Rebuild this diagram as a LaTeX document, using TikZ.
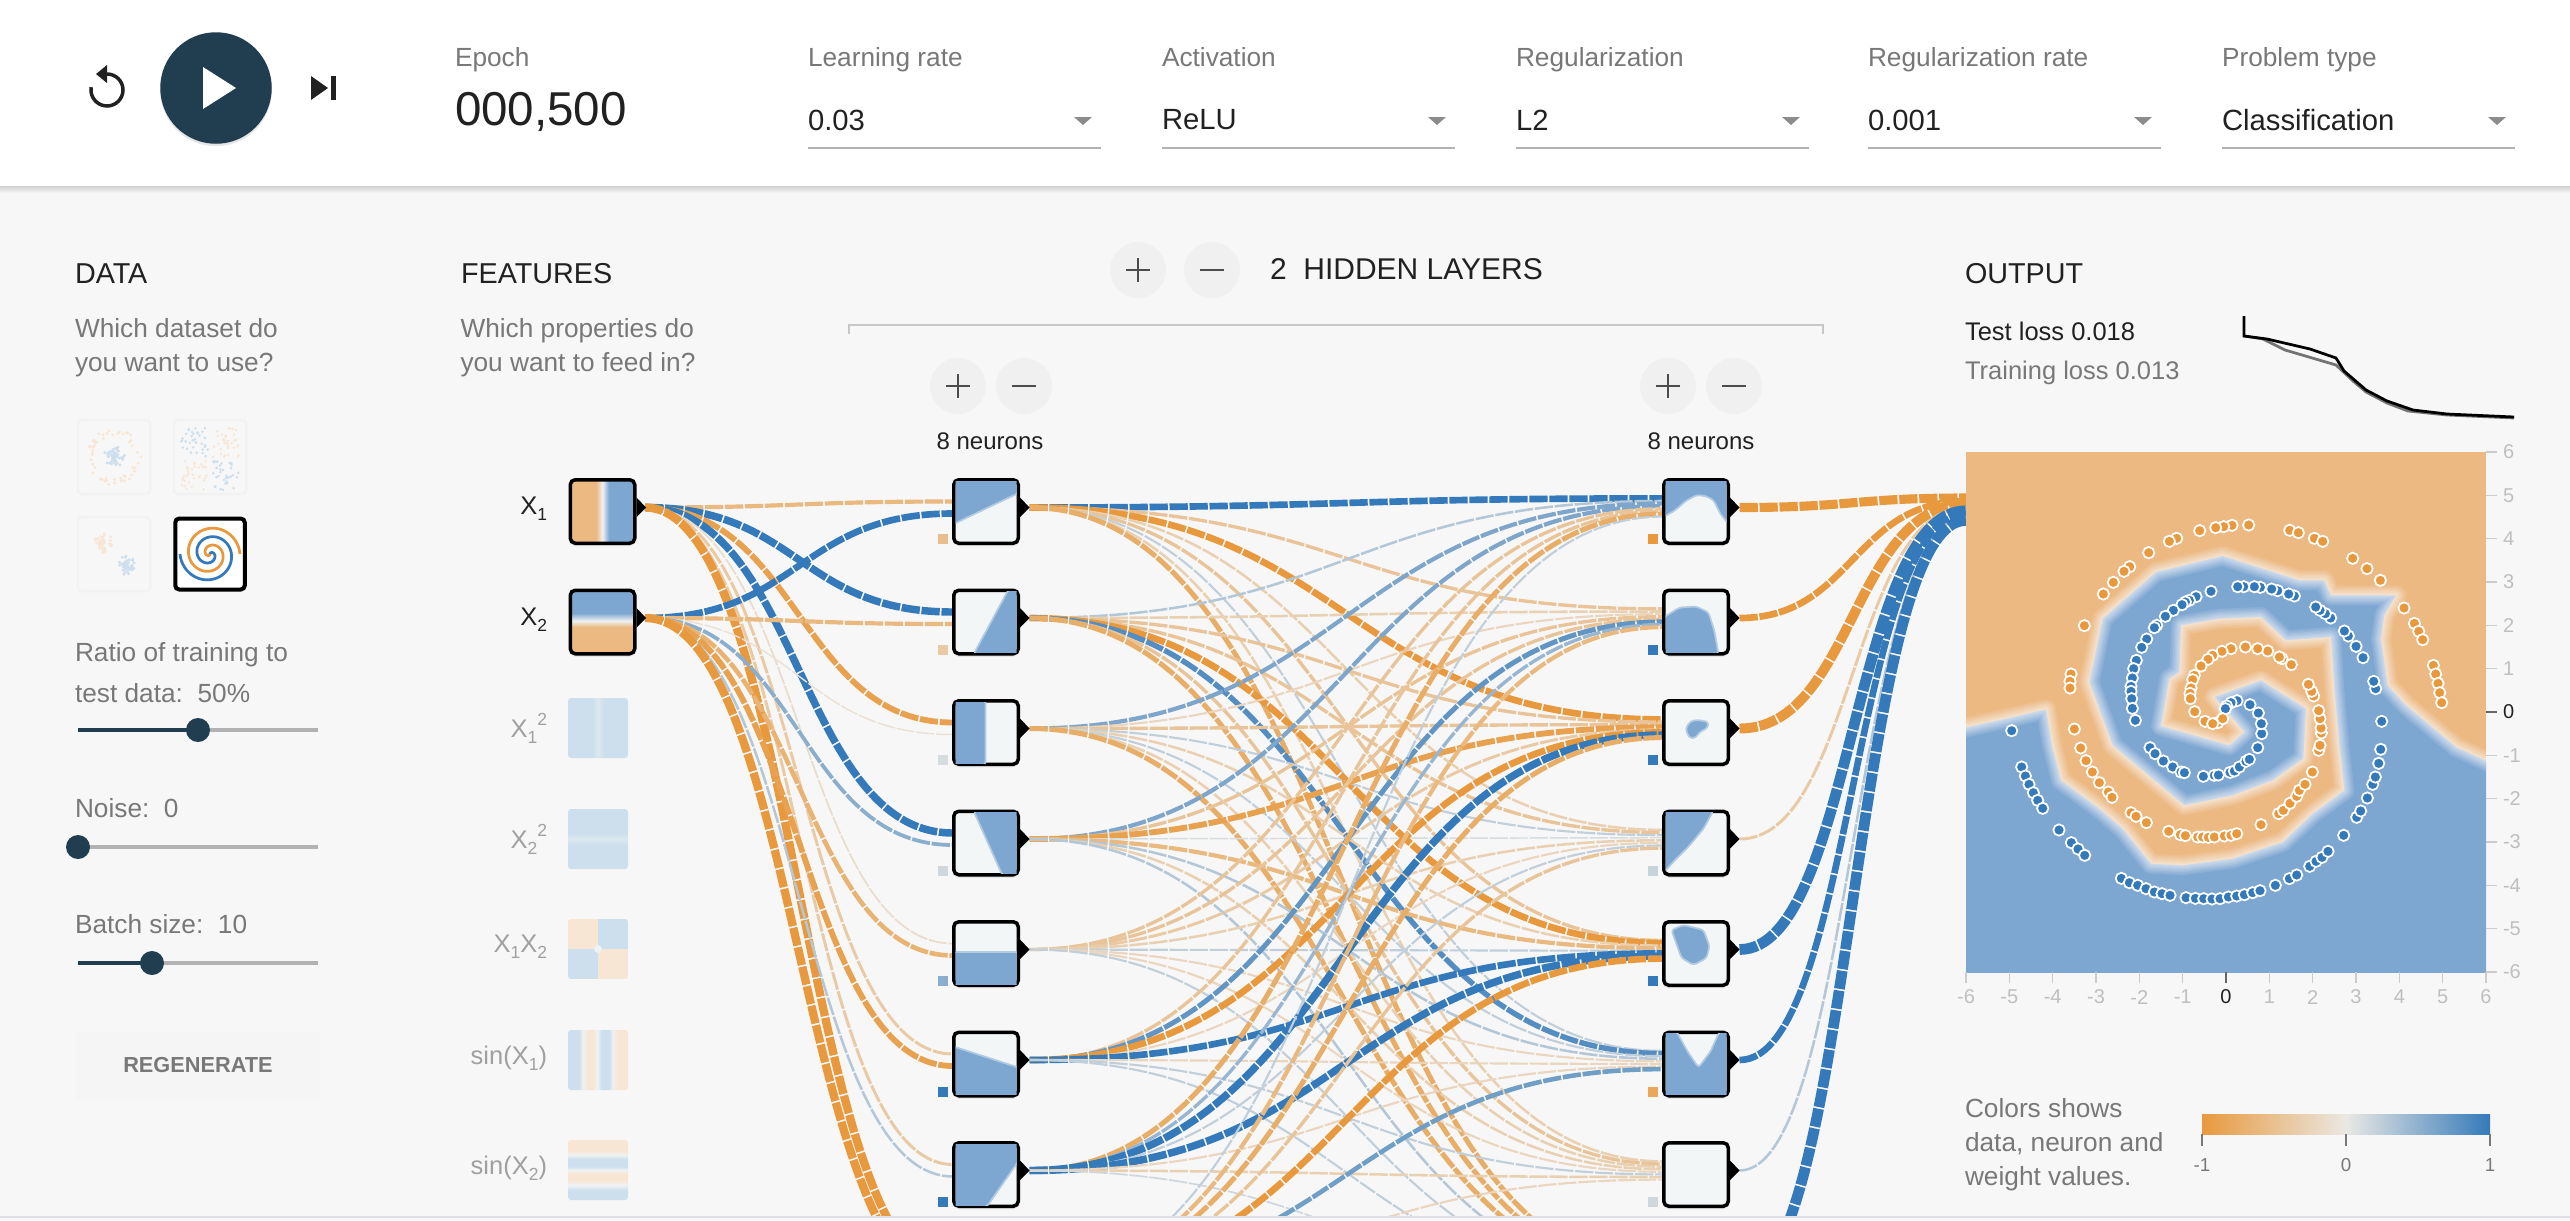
\documentclass[tikz,border=0pt]{standalone}
\usepackage{fontspec}
\setmainfont{Liberation Sans}
\usetikzlibrary{calc,shadows}

\definecolor{pagebg}{RGB}{247,247,247}
\definecolor{navy}{RGB}{33,61,80}
\definecolor{wireorange}{RGB}{232,153,62}
\definecolor{wireblue}{RGB}{52,122,186}
\definecolor{wiregrey}{RGB}{234,232,227}
\definecolor{heatorange}{RGB}{236,185,131}
\definecolor{heatblue}{RGB}{125,166,209}
\definecolor{neuronwhite}{RGB}{243,246,246}
\definecolor{paleblue}{RGB}{205,222,236}
\definecolor{paleorange}{RGB}{248,230,213}
\definecolor{palemid}{RGB}{238,242,243}
\definecolor{softstripe}{RGB}{220,232,240}
\definecolor{textgrey}{RGB}{120,120,120}
\definecolor{textdark}{RGB}{33,33,33}
\definecolor{faintgrey}{RGB}{160,160,160}
\definecolor{footline}{RGB}{223,223,232}

\pgfdeclarehorizontalshading{featxa}{100bp}{color(0bp)=(heatorange);color(45bp)=(heatorange);color(50bp)=(palemid);color(55bp)=(heatblue);color(100bp)=(heatblue)}
\pgfdeclareverticalshading{featxb}{100bp}{color(0bp)=(heatorange);color(46bp)=(heatorange);color(51bp)=(palemid);color(57bp)=(heatblue);color(100bp)=(heatblue)}
\pgfdeclarehorizontalshading{featxasq}{100bp}{color(0bp)=(softstripe);color(27bp)=(paleblue);color(45bp)=(paleblue);color(50bp)=(softstripe);color(55bp)=(paleblue);color(100bp)=(paleblue)}
\pgfdeclareverticalshading{featxbsq}{100bp}{color(0bp)=(paleblue);color(45bp)=(paleblue);color(50bp)=(softstripe);color(55bp)=(paleblue);color(100bp)=(paleblue)}
\pgfdeclarehorizontalshading{featsina}{100bp}{color(0bp)=(paleblue);color(34bp)=(paleblue);color(37.5bp)=(palemid);color(41bp)=(paleorange);color(46bp)=(paleorange);color(49.5bp)=(palemid);color(53bp)=(paleblue);color(59bp)=(paleblue);color(62.5bp)=(palemid);color(66bp)=(paleorange);color(100bp)=(paleorange)}
\pgfdeclareverticalshading{featsinb}{100bp}{color(0bp)=(paleblue);color(33bp)=(paleblue);color(37.5bp)=(palemid);color(41bp)=(paleorange);color(47bp)=(paleorange);color(50bp)=(palemid);color(53bp)=(paleblue);color(59bp)=(paleblue);color(62.5bp)=(palemid);color(66bp)=(paleorange);color(100bp)=(paleorange)}

\tikzset{
  every node/.style={inner sep=0pt, outer sep=0pt},
  body/.style={font=\fontsize{10.5}{13.6}\selectfont, text=textgrey, align=left},
  oneline/.style={text height=7.8pt, text depth=2.2pt},
  heading/.style={font=\fontsize{11.5}{14}\selectfont, text=textdark},
  value/.style={font=\fontsize{11.7}{14}\selectfont, text=textdark},
  ticklabel/.style={font=\fontsize{8}{10}\selectfont, text=black!25},
  smallbtn/.style={circle, fill=black!6, minimum size=22.4pt},
  neuron/.style={draw=black, line width=1.4pt, rounded corners=2pt, minimum width=25.8pt,
    minimum height=25.4pt, fill=neuronwhite,
    drop shadow={shadow xshift=0pt, shadow yshift=-1.2pt, opacity=.15}},
  feature/.style={shade, rounded corners=1.2pt, minimum size=24pt},
  thumb/.style={draw=black!5, line width=1pt, rounded corners=1.5pt, minimum width=29pt, minimum height=29.6pt},
  featlabel/.style={font=\fontsize{10.2}{13}\selectfont, text=faintgrey},
  blob/.style={fill=heatblue, draw=heatblue!55!neuronwhite, line width=.7pt, rounded corners=1.2pt, line join=round},
  wire/.style={dash pattern=on 7.3pt off .7pt},
  track/.style={draw=black!30, line width=1.8pt},
  slid/.style={draw=navy, line width=1.8pt},
  dot/.style={draw=white, line width=.7pt},
  heat/.style={shift={(1966,452)}, x=.13333pt, y=-.13333pt}
}

\newcommand{\lowidx}[1]{\raisebox{-.45ex}{\fontsize{7}{8}\selectfont #1}}
\newcommand{\upidx}[1]{\raisebox{.9ex}{\fontsize{7}{8}\selectfont #1}}

% curved link, weight sets colour and width
\newcommand{\wire}[3]{%
  \pgfmathsetmacro{\wt}{abs(#3)}
  \pgfmathsetmacro{\wp}{min(100,15*\wt)}
  \pgfmathsetmacro{\ww}{(0.9+0.82*\wt)*0.4}
  \ifdim #3pt<0pt \def\wc{wireorange}\else\def\wc{wireblue}\fi
  \coordinate (m) at ($(#1)!.5!(#2)$);
  \draw [wire, draw=\wc!\wp!wiregrey, line width=\ww pt] (#1) .. controls (m |- #1) and (m |- #2) .. (#2);
}

% neuron box: name, x, y, weight of small square, blue shape
\newcommand{\neuronbox}[5]{%
  \node (#1) [neuron] at (#2,#3) {};
  \begin{scope}[shift={(#2-30.5,#3-30.5)}]
    \clip (0,0) rectangle (61,61);
    \fill [blob] #5;
  \end{scope}
  \fill [black] (#2+34,#3-14) -- (#2+43.5,#3-4) -- (#2+34,#3+5.5) -- cycle;
  \pgfmathsetmacro{\wt}{abs(#4)}
  \pgfmathsetmacro{\wp}{min(100,15*\wt)}
  \ifdim #4pt<0pt \def\wc{wireorange}\else\def\wc{wireblue}\fi
  \fill [\wc!\wp!wiregrey] (#2-48,#3+22.5) rectangle (#2-38,#3+32.5);
}

\newcommand{\slider}[2]{%
  \draw [track] (78,#1) -- (318,#1);
  \draw [slid] (78,#1) -- (#2,#1);
  \fill [navy] (#2,#1) circle (12);
}

\begin{document}
\begin{tikzpicture}[x=.4pt, y=-.4pt]
  \useasboundingbox (0,0) rectangle (2570,1220);
  \fill [pagebg] (0,0) rectangle (2570,1220);

  % wire ends
  \foreach \i in {1,...,8} {
    \pgfmathsetmacro{\yy}{511.5+110.5*(\i-1)}
    \coordinate (Aout\i) at (1029.5,\yy-4);
    \coordinate (Bout\i) at (1739.5,\yy-4);
    \coordinate (Ain\i x1) at (953,\yy-10);
    \coordinate (Ain\i x2) at (953,\yy+2);
    \foreach \k in {1,...,8} {
      \coordinate (Bin\i x\k) at (1663,\yy-4+2.6*\k-11.7);
    }
    \coordinate (Oin\i) at (1966,498+3.2*\i-3.2);
  }
  \coordinate (Xout1) at (645,507.5);
  \coordinate (Xout2) at (645,618);

  % links
  \begin{scope}
    \clip (0,0) rectangle (2570,1216);
    \foreach \k/\row in {1/{-4,8,-6,8,-1,-2.5,-2.5,-9},2/{7,-4,-.6,3.5,-4.5,-6,2,-9}} {
      \foreach \w [count=\j] in \row {
        \wire{Xout\k}{Ain\j x\k}{\w}
      }
    }
    \foreach \k/\row in {
      1/{7,-3,-7,-2,-3,1.5,-2,-5},
      2/{2,-2,-3,-3,-7,5.5,-3,-5},
      3/{4,-1.5,-3,1.5,-2,1.5,-2,-5},
      4/{4,-3,-6,.7,-4,2,-2,2},
      5/{-3,-3,-2.5,-2,1.5,-1.5,-1.5,1.5},
      6/{-3,5,-7,-1.5,7,-1.5,1.5,1.5},
      7/{-5,3,8,1.5,8,-1.5,-2,1},
      8/{1.5,-4,-5,-3,-7,4.5,-1.5,-2}} {
      \foreach \w [count=\j] in \row {
        \wire{Aout\k}{Bin\j x\k}{\w}
      }
    }
    \foreach \w [count=\j] in {-10,-7,-11,-2.5,12,7,2,12} {
      \wire{Bout\j}{Oin\j}{\w}
    }
  \end{scope}

  % top bar
  \shade [top color=black!18, bottom color=pagebg] (0,186) rectangle (2570,193);
  \fill [white] (0,0) rectangle (2570,186);
  \node (playbtn) [circle, fill=navy, minimum size=44.6pt,
    drop shadow={shadow xshift=0pt, shadow yshift=-1pt, opacity=.2}] at (216,88) {};
  \fill [white] (203,67) -- (236,88) -- (203,109) -- cycle;
  \draw [textdark, line width=1.4pt] (107,74) arc (-90:190:16);
  \fill [textdark] (107,65) -- (107,83) -- (96,74) -- cycle;
  \fill [textdark] (311,76) -- (328,88) -- (311,100) -- cycle;
  \fill [textdark] (331,76) rectangle (336,100);
  \node (epochlb) [body, oneline, right] at (455,59.5) {Epoch};
  \node (epochval) [right, font=\fontsize{19}{22}\selectfont, text=textdark] at (455,112) {000,500};
  \foreach \x/\lab/\val in {808/Learning rate/0.03, 1162/Activation/ReLU, 1516/Regularization/L2,
      1868/Regularization rate/0.001, 2222/Problem type/Classification} {
    \node (hd\x) [body, oneline, right] at (\x,59.5) {\lab};
    \node (val\x) [value, right] at (\x,120) {\val};
    \draw [black!30, line width=.8pt] (\x,148) -- (\x+293,148);
    \fill [black!45] (\x+266,117) -- (\x+284,117) -- (\x+275,125) -- cycle;
  }

  % data column
  \node (datahd) [heading, right] at (75,273.5) {DATA};
  \node (datatx) [body, right] at (75,347.5) {Which dataset do\\you want to use?};
  \node (thumba) [thumb] at (114,457) {};
  \node (thumbb) [thumb] at (210,457) {};
  \node (thumbc) [thumb] at (114,554) {};
  \node (thumbd) [draw=black, fill=white, line width=1.6pt, rounded corners=1.6pt,
    minimum width=27.8pt, minimum height=28.4pt] at (210,554) {};
  \pgfmathsetseed{11}
  \foreach \i in {1,...,55} {
    \pgfmathsetmacro{\ra}{rnd*360}
    \pgfmathsetmacro{\rr}{21+rnd*7}
    \fill [paleorange] ({114+\rr*cos(\ra)},{457+\rr*sin(\ra)}) circle (1.6);
    \pgfmathsetmacro{\ra}{rnd*360}
    \pgfmathsetmacro{\rr}{rnd*11}
    \fill [paleblue] ({114+\rr*cos(\ra)},{457+\rr*sin(\ra)}) circle (1.6);
  }
  \foreach \i in {1,...,35} {
    \fill [paleblue] ({181+rnd*27},{428+rnd*29}) circle (1.4);
    \fill [paleorange] ({213+rnd*27},{428+rnd*29}) circle (1.4);
    \fill [paleorange] ({181+rnd*27},{461+rnd*29}) circle (1.4);
    \fill [paleblue] ({213+rnd*27},{461+rnd*29}) circle (1.4);
  }
  \foreach \i in {1,...,50} {
    \pgfmathsetmacro{\ra}{rnd*360}
    \pgfmathsetmacro{\rr}{rnd*10}
    \fill [paleorange] ({103+\rr*cos(\ra)},{543+\rr*sin(\ra)}) circle (1.6);
    \pgfmathsetmacro{\ra}{rnd*360}
    \pgfmathsetmacro{\rr}{rnd*10}
    \fill [paleblue] ({127+\rr*cos(\ra)},{566+\rr*sin(\ra)}) circle (1.6);
  }
  \draw [wireblue, line width=1.1pt] plot [domain=0:630, samples=90, smooth] ({210+\x/630*30*sin(\x)},{554-\x/630*30*cos(\x)});
  \draw [wireorange, line width=1.1pt] plot [domain=0:630, samples=90, smooth] ({210-\x/630*30*sin(\x)},{554+\x/630*30*cos(\x)});

  \node (ratiotx) [body, right] at (75,673) {Ratio of training to\\[2.8pt]test data:\ \ 50\%};
  \slider{730}{198}
  \node (noisetx) [body, right] at (75,808.5) {Noise:\ \ 0};
  \slider{847}{78}
  \node (batchtx) [body, right] at (75,924.5) {Batch size:\ \ 10};
  \slider{963}{152}
  \node (regen) [fill=black!4, rounded corners=1.5pt, minimum width=97.6pt, minimum height=26.8pt,
    font=\bfseries\fontsize{8.7}{10}\selectfont, text=textgrey] at (198,1065) {REGENERATE};

  % features
  \node (feathd) [heading, right] at (461,273.5) {FEATURES};
  \node (feattx) [body, right] at (460.5,347.5) {Which properties do\\you want to feed in?};
  \node (Xa) [neuron, shade, shading=featxa] at (602.5,511.5) {};
  \node (Xb) [neuron, shade, shading=featxb] at (602.5,622) {};
  \foreach \y in {511.5,622} {
    \fill [black] (636.5,\y-14) -- (646,\y-4) -- (636.5,\y+5.5) -- cycle;
  }
  \node (fxa) [feature, shading=featxasq] at (598,728) {};
  \node (fxb) [feature, shading=featxbsq] at (598,839) {};
  \node (fxy) [minimum size=24pt] at (598,949) {};
  \begin{scope}
    \clip [rounded corners=1.2pt] (568,919) rectangle (628,979);
    \fill [paleorange] (568,919) rectangle (598,949);
    \fill [paleblue] (598,919) rectangle (628,949);
    \fill [paleblue] (568,949) rectangle (598,979);
    \fill [paleorange] (598,949) rectangle (628,979);
    \fill [palemid] (598,949) circle (4);
  \end{scope}
  \node (fsa) [feature, shading=featsina] at (598,1060) {};
  \node (fsb) [feature, shading=featsinb] at (598,1170) {};
  \node (lxa) [featlabel, left, text=textdark] at (547,509) {X\lowidx{1}};
  \node (lxb) [featlabel, left, text=textdark] at (547,620) {X\lowidx{2}};
  \node (lxc) [featlabel, left] at (547,728) {X\lowidx{1}\upidx{2}};
  \node (lxd) [featlabel, left] at (547,839) {X\lowidx{2}\upidx{2}};
  \node (lxe) [featlabel, left] at (547,947) {X\lowidx{1}X\lowidx{2}};
  \node (lxf) [featlabel, left] at (547,1058) {sin(X\lowidx{1})};
  \node (lxg) [featlabel, left] at (547,1168) {sin(X\lowidx{2})};

  % hidden layers header
  \node (addl) [smallbtn] at (1138,270) {};
  \node (subl) [smallbtn] at (1212,270) {};
  \draw [black!70, line width=1.1pt] (1126,270) -- (1150,270) (1138,258) -- (1138,282);
  \draw [black!70, line width=1.1pt] (1200,270) -- (1224,270);
  \node (hiddenhd) [right, font=\fontsize{12}{14}\selectfont, text=textdark] at (1270,269) {2\ \ HIDDEN LAYERS};
  \draw [black!22, line width=.8pt] (849,334) -- (849,325) -- (1823,325) -- (1823,334);
  \foreach \x/\name in {958/adda, 1024/suba, 1668/addb, 1734/subb} {
    \node (\name) [smallbtn] at (\x,386) {};
    \draw [black!70, line width=1.1pt] (\x-12,386) -- (\x+12,386);
  }
  \draw [black!70, line width=1.1pt] (958,374) -- (958,398) (1668,374) -- (1668,398);
  \node (counta) [font=\fontsize{9.6}{12}\selectfont, text=textdark] at (990,441.5) {8 neurons};
  \node (countb) [font=\fontsize{9.6}{12}\selectfont, text=textdark] at (1701,441.5) {8 neurons};

  % first hidden layer
  \neuronbox{A1}{986}{511.5}{-3.5}{(-2,-2) -- (63,-2) -- (63,12) -- (-2,43) -- cycle}
  \neuronbox{A2}{986}{622}{-2.5}{(18,63) -- (53,-2) -- (63,-2) -- (63,63) -- cycle}
  \neuronbox{A3}{986}{732.5}{.7}{(-2,-2) -- (30,-2) -- (30,63) -- (-2,63) -- cycle}
  \neuronbox{A4}{986}{843}{1}{(18,-2) -- (63,-2) -- (63,63) -- (47,63) -- cycle}
  \neuronbox{A5}{986}{953.5}{3.5}{(-2,29) -- (63,29) -- (63,63) -- (-2,63) -- cycle}
  \neuronbox{A6}{986}{1064}{7}{(-2,13) -- (63,34) -- (63,63) -- (-2,63) -- cycle}
  \neuronbox{A7}{986}{1174.5}{7}{(-2,-2) -- (63,-2) -- (63,17) -- (31,63) -- (-2,63) -- cycle}

  % second hidden layer
  \neuronbox{B1}{1696}{511.5}{-7}{(-2,-2) -- (63,-2) -- (63,43) -- (55,33) -- (48,19) -- (40,15) -- (31,14) -- (20,20) -- (10,29) -- (-2,36) -- cycle}
  \neuronbox{B2}{1696}{622}{7}{(-2,26) -- (14,16) -- (31,15) -- (43,21) -- (49,40) -- (53,63) -- (-2,63) -- cycle}
  \neuronbox{B3}{1696}{732.5}{7}{(20,27) -- (25,19) -- (33,18) -- (43,20) -- (42,26) -- (34,30) -- (30,36) -- (24,36) -- cycle}
  \neuronbox{B4}{1696}{843}{1.3}{(-2,-2) -- (48,-2) -- (38,16) -- (24,33) -- (10,47) -- (-2,60) -- cycle}
  \neuronbox{B5}{1696}{953.5}{7}{(6,7) -- (18,2) -- (38,7) -- (44,23) -- (41,35) -- (28,42) -- (16,35) -- (11,21) -- cycle}
  \neuronbox{B6}{1696}{1064}{-5.5}{(-2,-2) -- (11,-2) -- (22,18) -- (33,34) -- (45,18) -- (54,-2) -- (63,-2) -- (63,63) -- (-2,63) -- cycle}
  \neuronbox{B7}{1696}{1174.5}{1}{(-5,-5)}

  % output column
  \node (outhd) [heading, right] at (1965,273.5) {OUTPUT};
  \node (testls) [right, font=\fontsize{10.2}{12}\selectfont, text=textdark] at (1965,331) {Test loss 0.018};
  \node (trainls) [right, font=\fontsize{10.2}{12}\selectfont, text=textgrey] at (1965,372.5) {Training loss 0.013};
  \draw [black!55, line width=1.1pt] (2244,336) -- (2263,339) -- (2285,350) -- (2336,365) -- (2353,381) -- (2366,392) -- (2387,403) -- (2408,411) -- (2447,415) -- (2514,418);
  \draw [black, line width=1.1pt] (2244,316) -- (2244,336) -- (2267,339) -- (2310,349) -- (2336,358) -- (2344,371) -- (2366,390) -- (2387,401) -- (2413,410) -- (2447,414) -- (2514,417);

  % heatmap
  \fill [heatorange] (1966,452) rectangle (2486,972);
  \begin{scope}[heat]
    \clip (0,0) rectangle (1560,1560);
    \def\heatbound{(-40,835) -- (120,800) -- (240,772) -- (258,880) -- (285,985) -- (400,1070) -- (470,1130) -- (555,1235) -- (650,1240) -- (800,1220) -- (950,1170) -- (1040,1085) -- (1135,1015) -- (1120,880) -- (1105,710) -- (1095,555) -- (960,565) -- (885,495) -- (760,500) -- (645,520) -- (640,660) -- (610,680) -- (585,822) -- (790,880) -- (835,840) -- (745,735) -- (885,685) -- (1020,770) -- (1012,920) -- (920,985) -- (800,1030) -- (655,1060) -- (440,880) -- (370,690) -- (410,500) -- (570,360) -- (770,312) -- (1000,385) -- (1075,385) -- (1095,430) -- (1290,430) -- (1255,490) -- (1245,560) -- (1265,700) -- (1320,760) -- (1470,885) -- (1600,945) -- (1600,1600) -- (-40,1600) -- cycle}
    \fill [heatblue] \heatbound;
    \foreach \lw in {8,6.6,5.4,4.3,3.3,2.4,1.5,.8} {
      \draw [white, opacity=.11, line width=\lw pt, line join=round] \heatbound;
    }
    \foreach \x/\y in {137/836,167/945,178/972,189/997,202/1022,215/1045,230/1069,279/1134,316/1172,336/1191,356/1210,
      466/1279,490/1292,515/1300,540/1310,565/1320,588/1325,612/1330,660/1337,688/1339,713/1340,738/1341,762/1340,787/1335,812/1332,835/1328,860/1322,882/1316,928/1300,970/1280,992/1269,1031/1243,1050/1228,1068/1216,1086/1198,1133/1150,1172/1096,1184/1077,1204/1038,1220/997,1228/975,1238/934,1244/892,1247/808,1229/710,1223/688,1191/617,1170/583,1147/552,1135/537,1094/498,1078/485,1062/475,1049/465,985/432,968/426,935/416,917/411,883/406,865/404,833/404,815/404,735/418,690/434,670/445,658/450,648/458,622/475,598/493,572/520,565/527,542/561,527/586,511/625,503/650,499/678,495/703,495/718,497/740,499/769,508/805,
      552/887,567/905,592/927,620/945,645/960,655/962,712/973,745/970,757/969,792/961,805/957,820/945,840/928,850/922,875/887,887/845,886/815,877/783,852/758,813/746,795/752,782/762,778/770} {
      \filldraw [dot, fill=wireblue] (\x,\y) circle (17);
    }
    \foreach \x/\y in {848/219,798/220,773/224,749/227,701/236,632/259,610/268,548/302,491/344,474/358,442/391,412/426,355/521,315/666,312/688,312/708,
      971/235,997/242,1045/259,1070/268,1160/319,1203/350,1243/385,1314/468,1345/514,1358/538,1370/563,1402/640,1409/666,1416/694,1421/722,1427/752,
      325/831,344/888,360/926,379/960,400/992,427/1020,438/1036,495/1082,510/1093,541/1112,608/1138,643/1148,658/1151,695/1155,710/1155,727/1156,745/1155,775/1152,795/1150,812/1145,885/1118,938/1085,952/1075,972/1054,992/1033,1000/1015,1017/997,1039/960,1058/895,1062/880,1066/843,1065/828,1062/800,1058/776,1043/732,1037/718,1027/697,
      976/638,948/620,940/615,905/597,875/590,838/585,795/590,768/598,740/610,726/622,705/642,685/670,680/683,675/708,672/724,673/740,686/779,717/808,755/812,740/815,770/800} {
      \filldraw [dot, fill=wireorange] (\x,\y) circle (17);
    }
  \end{scope}

  % axes
  \foreach \v in {-6,-5,-4,-3,-2,-1,1,2,3,4,5,6} {
    \pgfmathsetmacro{\tx}{2226+43.333*\v}
    \pgfmathsetmacro{\ty}{712-43.333*\v}
    \draw [black!20, line width=.5pt] (\tx,972) -- (\tx,983);
    \draw [black!20, line width=.5pt] (2486,\ty) -- (2497,\ty);
    \node (xt\v) [ticklabel] at (\tx,997) {\v};
    \node (yt\v) [ticklabel, right] at (2503,\ty) {\v};
  }
  \draw [black!60, line width=.5pt] (2226,972) -- (2226,983) (2486,712) -- (2497,712);
  \node (xtz) [ticklabel, text=textdark] at (2226,997) {0};
  \node (ytz) [ticklabel, right, text=textdark] at (2503,712) {0};

  % colour legend
  \node (legtx) [body, right] at (1965,1145) {Colors shows\\data, neuron and\\weight values.};
  \shade [left color=wireorange, right color=wireblue, middle color=wiregrey] (2202,1114) rectangle (2490,1134);
  \foreach \x/\lab in {2202/-1, 2346/0, 2490/1} {
    \draw [textgrey, line width=.5pt] (\x,1134) -- (\x,1146);
    \node (leg\x) [font=\fontsize{7.5}{9}\selectfont, text=textgrey] at (\x,1165) {\lab};
  }

  % page foot
  \fill [footline] (0,1216) rectangle (2570,1218);
\end{tikzpicture}
\end{document}
